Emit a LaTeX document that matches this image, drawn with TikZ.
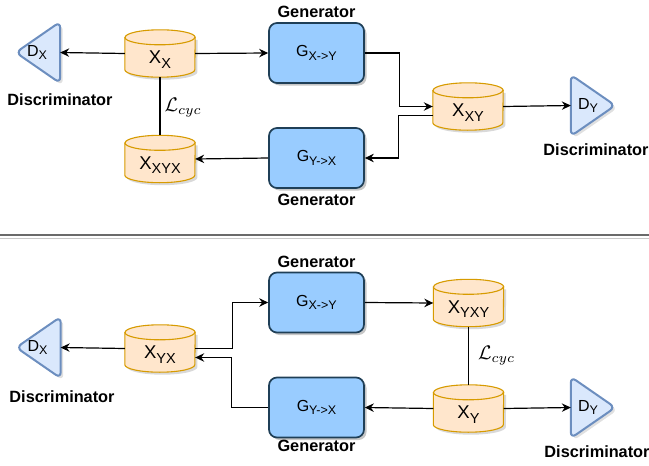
\RequirePackage{fix-cm}
\documentclass[tikz,border=0pt]{standalone}
\usepackage{fontspec}
\setmainfont{Liberation Sans}
\usetikzlibrary{arrows.meta,calc,backgrounds,shadows}

\definecolor{genfill}{HTML}{99CCFF}
\definecolor{gendraw}{HTML}{1F3F57}
\definecolor{dbfill}{HTML}{FFE6CC}
\definecolor{dbdraw}{HTML}{D79B00}
\definecolor{disfill}{HTML}{DAE8FC}
\definecolor{disdraw}{HTML}{6C8EBF}
\definecolor{sepdark}{HTML}{6A6A6A}
\definecolor{seplight}{HTML}{C8C8C8}

% subscripted labels
\newcommand\gsub[2]{#1\raisebox{-3.8pt}{\fontsize{12.5}{13}\selectfont #2}}
\newcommand\csub[2]{#1\raisebox{-4.3pt}{\fontsize{14.5}{15}\selectfont #2}}
\newcommand\losslabel{\resizebox{37pt}{!}{$\mathcal{L}_{cyc}$}}

\tikzset{
  gen/.style={draw=gendraw, fill=genfill, line width=1.7pt, rounded corners=8pt,
    minimum width=95pt, minimum height=60pt, inner sep=0pt,
    font=\fontsize{16}{18}\selectfont,
    drop shadow={shadow xshift=2.5pt, shadow yshift=-2.5pt, fill=black, opacity=0.22}},
  cylbox/.style={minimum width=70pt, minimum height=47pt, inner sep=0pt},
  cyltext/.style={inner sep=0pt, font=\fontsize{18.5}{20}\selectfont},
  cylshape/.style={draw=dbdraw, fill=dbfill, line width=1.1pt},
  cylshadow/.style={fill=black, opacity=0.15},
  disbox/.style={minimum width=44pt, minimum height=61pt, inner sep=0pt},
  distext/.style={inner sep=0pt, font=\fontsize{16}{18}\selectfont},
  disshape/.style={draw=disdraw, fill=disfill, line width=2pt, rounded corners=6pt, line join=round},
  disshadow/.style={fill=black, opacity=0.12, rounded corners=6pt},
  caption/.style={inner sep=0pt, font=\fontsize{16.3}{18}\selectfont\bfseries},
  loss/.style={inner sep=0pt},
  link/.style={line width=1.2pt, draw=black},
  arr/.style={link, -{Stealth[length=9pt,width=8.5pt,inset=3pt]}},
}

% database cylinder: name, centre, text
\newcommand\dbcyl[3]{%
  \node[cylbox] (#1) at (#2) {};
  \node[cyltext] at ([yshift=-6pt]#1.center) {#3};
  \begin{pgfonlayer}{background}
    \fill[cylshadow] ([shift={(2.5,-10)}]#1.north west) -- ([shift={(2.5,7.5-2.5)}]#1.south west)
      arc[start angle=180, end angle=360, x radius=35pt, y radius=7.5pt]
      -- ([shift={(2.5,-10)}]#1.north east) -- cycle;
    \path[cylshape] ([yshift=-7.5pt]#1.north west) -- ([yshift=7.5pt]#1.south west)
      arc[start angle=180, end angle=360, x radius=35pt, y radius=7.5pt]
      -- ([yshift=-7.5pt]#1.north east)
      arc[start angle=0, end angle=180, x radius=35pt, y radius=7.5pt] -- cycle;
    \draw[cylshape, fill=none] ([yshift=-7.5pt]#1.north west)
      arc[start angle=180, end angle=360, x radius=35pt, y radius=7.5pt];
  \end{pgfonlayer}}

% discriminator pointing left: name, centre, text
\newcommand\discL[3]{%
  \node[disbox] (#1) at (#2) {};
  \node[distext] at ([xshift=-1pt]#1.center) {#3};
  \begin{pgfonlayer}{background}
    \fill[disshadow] ([shift={(2.5,-2.5)}]#1.west) -- ([shift={(2.5,-2.5)}]#1.north east)
      -- ([shift={(2.5,-2.5)}]#1.south east) -- cycle;
    \path[disshape] (#1.west) -- (#1.north east) -- (#1.south east) -- cycle;
  \end{pgfonlayer}}

% discriminator pointing right: name, centre, text
\newcommand\discR[3]{%
  \node[disbox] (#1) at (#2) {};
  \node[distext] at ([xshift=-5pt]#1.center) {#3};
  \begin{pgfonlayer}{background}
    \fill[disshadow] ([shift={(2.5,-2.5)}]#1.north west) -- ([shift={(2.5,-2.5)}]#1.east)
      -- ([shift={(2.5,-2.5)}]#1.south west) -- cycle;
    \path[disshape] (#1.north west) -- (#1.east) -- (#1.south west) -- cycle;
  \end{pgfonlayer}}

\begin{document}
\begin{tikzpicture}[x=1pt, y=1pt]
  \useasboundingbox (0,0) rectangle (649,-466);

  % ---------- forward cycle X -> Y -> X ----------
  \discL{dxa}{38,-52.5}{\gsub{D}{X}}
  \node[caption] (dxacap) at (60,-100) {Discriminator};
  \dbcyl{xx}{160,-53.5}{\csub{X}{X}}
  \dbcyl{xxyx}{160,-159}{\csub{X}{XYX}}
  \node[gen] (gxya) at (316.5,-53) {\gsub{G}{X->Y}};
  \node[caption] (gxyacap) at (316.5,-12) {Generator};
  \node[gen] (gyxa) at (316.5,-158) {\gsub{G}{Y->X}};
  \node[caption] (gyxacap) at (316.5,-200) {Generator};
  \dbcyl{xxy}{468,-106.5}{\csub{X}{XY}}
  \discR{dya}{593,-105.5}{\gsub{D}{Y}}
  \node[caption] (dyacap) at (596,-150) {Discriminator};

  \draw[arr] (xx.west) -- (dxa.east);
  \draw[arr] (xx.east) -- (gxya.west);
  \draw[arr] (gxya.east) -- ++(35,0) |- (xxy.west);
  \draw[arr] ([yshift=-9pt]xxy.west) -- ++(-34,0) |- (gyxa.east);
  \draw[arr] (xxy.east) -- (dya.west);
  \draw[arr] (gyxa.west) -- (xxyx.east);
  \draw[link] (xx.south) -- node[loss, right=4pt, pos=0.52] (lossa) {\losslabel} (xxyx.north);

  % ---------- separator ----------
  \draw[line width=2pt, sepdark] (0,-234.7) -- (649,-234.7);
  \draw[line width=1pt, seplight] (0,-238.3) -- (649,-238.3);

  % ---------- backward cycle Y -> X -> Y ----------
  \discL{dxb}{38.5,-347.5}{\gsub{D}{X}}
  \node[caption] (dxbcap) at (62,-397) {Discriminator};
  \dbcyl{xyx}{160,-348.5}{\csub{X}{YX}}
  \node[gen] (gxyb) at (316.5,-302.5) {\gsub{G}{X->Y}};
  \node[caption] (gxybcap) at (316.5,-262) {Generator};
  \node[gen] (gyxb) at (316.5,-407.5) {\gsub{G}{Y->X}};
  \node[caption] (gyxbcap) at (316.5,-446) {Generator};
  \dbcyl{xyxy}{468.5,-303}{\csub{X}{YXY}}
  \dbcyl{xy}{468.5,-408.5}{\csub{X}{Y}}
  \discR{dyb}{593,-407.5}{\gsub{D}{Y}}
  \node[caption] (dybcap) at (597,-452) {Discriminator};

  \draw[arr] (xyx.west) -- (dxb.east);
  \draw[arr] (xyx.east) -- ++(37,0) |- (gxyb.west);
  \draw[arr] (gyxb.west) -- ++(-37,0) |- ([yshift=-9pt]xyx.east);
  \draw[arr] (gxyb.east) -- (xyxy.west);
  \draw[arr] (xy.west) -- (gyxb.east);
  \draw[arr] (xy.east) -- (dyb.west);
  \draw[link] (xyxy.south) -- node[loss, right=9pt, pos=0.5] (lossb) {\losslabel} (xy.north);
\end{tikzpicture}
\end{document}
